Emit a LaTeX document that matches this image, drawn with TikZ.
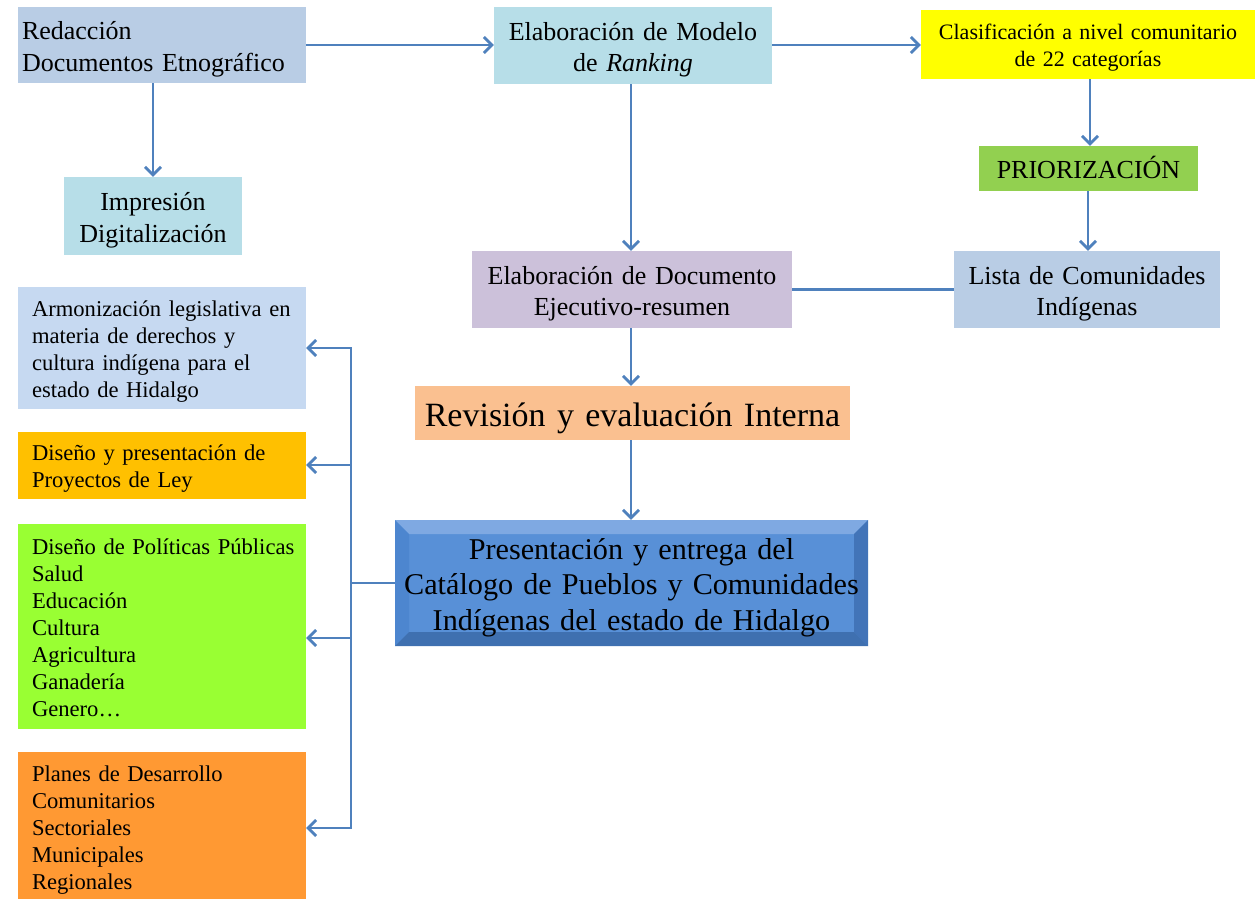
\documentclass[tikz,border=0pt]{standalone}
\usepackage{fontspec}
\setmainfont{Liberation Serif}
\usetikzlibrary{arrows.meta,calc}
\definecolor{linec}{HTML}{4F81BD}
\definecolor{cRed}{HTML}{B9CDE5}
\definecolor{cAqua}{HTML}{B7DEE8}
\definecolor{cYel}{HTML}{FFFF00}
\definecolor{cPri}{HTML}{92D050}
\definecolor{cLav}{HTML}{CCC1DA}
\definecolor{cPeach}{HTML}{FAC090}
\definecolor{cArm}{HTML}{C6D9F1}
\definecolor{cLey}{HTML}{FFC000}
\definecolor{cPol}{HTML}{99FF33}
\definecolor{cPlan}{HTML}{FF9933}
\definecolor{cPres}{HTML}{5890D7}
\definecolor{cPresTop}{HTML}{7FA9E2}
\definecolor{cPresL}{HTML}{4D86CF}
\definecolor{cPresR}{HTML}{4274B8}
\definecolor{cPresB}{HTML}{3F70B0}
\newcommand\myfs[2]{\fontsize{#1}{#2}\selectfont}
\begin{document}
\begin{tikzpicture}[x=1pt,y=-1pt,
  box/.style={inner sep=0pt, align=center,
    execute at begin node={\rule{0pt}{1.02em}},
    execute at end node={\rule[-0.23em]{0pt}{0.23em}}},
  leftbox/.style={box, align=left, text width=260pt, minimum width=288pt, font=\myfs{22.6}{27}},
  conn/.style={draw=linec, line width=2.8pt},
  arr/.style={conn, -{Straight Barb[length=8pt,width=16pt]}}]
\useasboundingbox (0,0) rectangle (1255,899);

% top row
\node[box, fill=cRed, minimum width=288pt, minimum height=76pt, text width=280pt, align=left, font=\myfs{26}{32}] (red) at (162,45) {Redacción\\Documentos Etnográfico};
\node[box, fill=cAqua, minimum width=178pt, minimum height=78pt, text width=170pt, font=\myfs{26}{31.5}] (imp) at (153,216) {Impresión\\Digitalización};
\node[box, fill=cAqua, minimum width=278pt, minimum height=77pt, text width=270pt, font=\myfs{26}{31}] (mod) at (633,45.5) {Elaboración de Modelo\\de \textit{Ranking}};
\node[box, fill=cYel, minimum width=334pt, minimum height=69pt, text width=330pt, font=\myfs{22}{27}] (clas) at (1088,44.5) {Clasificación a nivel comunitario\\de 22 categorías};
\node[box, fill=cPri, minimum width=219pt, minimum height=45pt, text width=215pt, font=\myfs{26}{31}] (pri) at (1088.5,168.5) {PRIORIZACIÓN};
\node[box, fill=cRed, minimum width=266pt, minimum height=77pt, text width=260pt, font=\myfs{26}{31}] (lista) at (1087,289.5) {Lista de Comunidades\\Indígenas};
\node[box, fill=cLav, minimum width=320pt, minimum height=77pt, text width=314pt, font=\myfs{26}{31}] (doc) at (632,289.5) {Elaboración de Documento\\Ejecutivo-resumen};
\node[box, fill=cPeach, minimum width=435pt, minimum height=54pt, text width=430pt, font=\myfs{34}{40}] (rev) at (632.5,413) {Revisión y evaluación Interna};
\node[box, fill=cPres, minimum width=473pt, minimum height=126pt, text width=468pt, font=\myfs{30.2}{35.5},
  path picture={
    \fill[cPresTop] (path picture bounding box.north west) -- (path picture bounding box.north east) -- ($(path picture bounding box.north east)+(-14,14)$) -- ($(path picture bounding box.north west)+(14,14)$) -- cycle;
    \fill[cPresL] (path picture bounding box.north west) -- ($(path picture bounding box.north west)+(14,14)$) -- ($(path picture bounding box.south west)+(14,-14)$) -- (path picture bounding box.south west) -- cycle;
    \fill[cPresR] (path picture bounding box.north east) -- ($(path picture bounding box.north east)+(-14,14)$) -- ($(path picture bounding box.south east)+(-14,-14)$) -- (path picture bounding box.south east) -- cycle;
    \fill[cPresB] (path picture bounding box.south west) -- ($(path picture bounding box.south west)+(14,-14)$) -- ($(path picture bounding box.south east)+(-14,-14)$) -- (path picture bounding box.south east) -- cycle;
  }] (pres) at (631.5,583) {Presentación y entrega del\\Catálogo de Pueblos y Comunidades\\Indígenas del estado de Hidalgo};

% left column
\node[leftbox, fill=cArm, minimum height=122pt] (arm) at (162,348) {\mbox{Armonización legislativa en}\\materia de derechos y\\cultura indígena para el\\estado de Hidalgo};
\node[leftbox, fill=cLey, minimum height=67pt] (ley) at (162,465.5) {Diseño y presentación de\\Proyectos de Ley};
\node[leftbox, fill=cPol, minimum height=205pt] (pol) at (162,626.5) {\mbox{Diseño de Políticas Públicas}\\Salud\\Educación\\Cultura\\Agricultura\\Ganadería\\Genero…};
\node[leftbox, fill=cPlan, minimum height=150pt] (plan) at (162,827) {Planes de Desarrollo\\Comunitarios\\Sectoriales\\Municipales\\Regionales};

% connectors
\coordinate (rowA) at (0,45);
\draw[arr] (red.east |- rowA) -- (mod.west |- rowA);
\draw[arr] (imp.north |- red.south) -- (imp.north);
\draw[arr] (mod.east |- rowA) -- (clas.west |- rowA);
\coordinate (colM) at (631,0);
\draw[arr] (mod.south -| colM) -- (doc.north -| colM);
\coordinate (colR) at (1090,0);
\draw[arr] (clas.south -| colR) -- (pri.north -| colR);
\coordinate (colR2) at (1088,0);
\draw[arr] (pri.south -| colR2) -- (lista.north -| colR2);
\draw[conn] (lista.west) -- (doc.east);
\draw[arr] (doc.south -| colM) -- (rev.north -| colM);
\draw[arr] (rev.south -| colM) -- (pres.north -| colM);

% bus
\coordinate (b1) at (351,348);
\coordinate (b2) at (351,465);
\coordinate (b3) at (351,638);
\coordinate (b4) at (351,828);
\draw[conn] (pres.west) -- (pres.west -| b1);
\draw[conn, line cap=rect] (b1) -- (b4);
\draw[arr] (b1) -- (b1 -| arm.east);
\draw[arr] (b2) -- (b2 -| ley.east);
\draw[arr] (b3) -- (b3 -| pol.east);
\draw[arr] (b4) -- (b4 -| plan.east);
\end{tikzpicture}
\end{document}
